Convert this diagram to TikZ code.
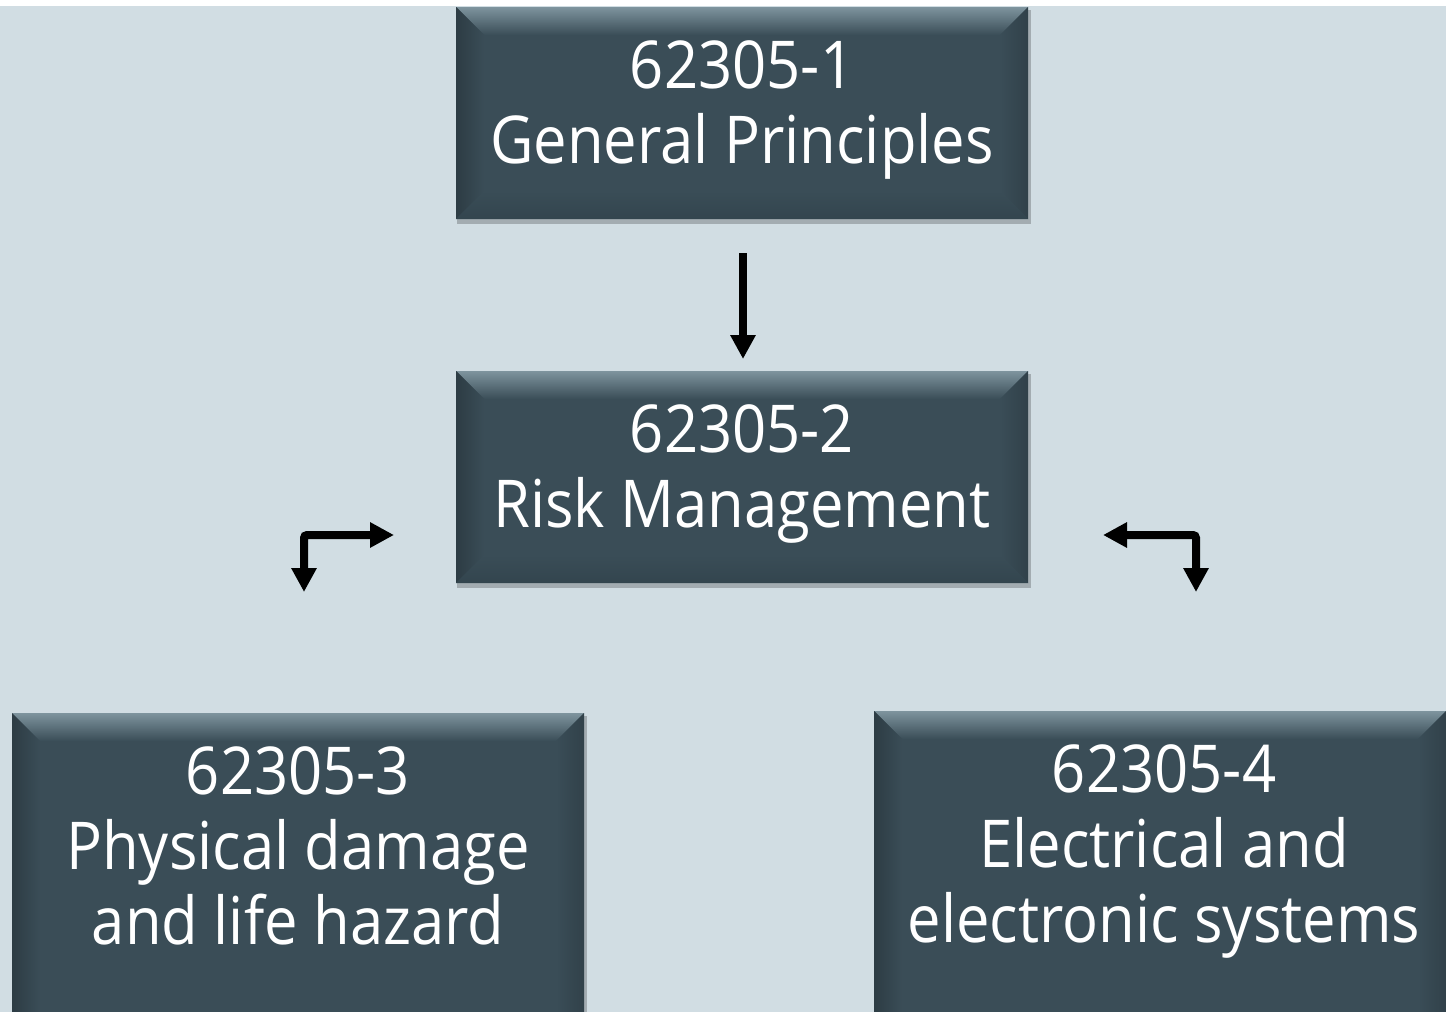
\documentclass[tikz,border=0pt]{standalone}
\usepackage{fontspec}
\setmainfont[FakeStretch=0.905]{Open Sans}
\usetikzlibrary{arrows.meta}
\definecolor{bgc}{HTML}{D1DDE3}
\definecolor{boxc}{HTML}{3A4D57}
\definecolor{bevtop}{HTML}{7E949E}
\definecolor{bevside}{HTML}{2D3C44}
\definecolor{bevbot}{HTML}{33454E}
\newcommand\bevbox[4]{%
  \fill[black, opacity=0.22] (#1+1,#2+3) rectangle (#3+3,#4+5);
  \fill[boxc] (#1,#2) rectangle (#3,#4);
  \shade[top color=bevtop, bottom color=boxc] (#1,#2) -- (#3,#2) -- (#3-28,#2+28) -- (#1+28,#2+28) -- cycle;
  \shade[left color=bevside, right color=boxc] (#1,#2) -- (#1+28,#2+28) -- (#1+28,#4-28) -- (#1,#4) -- cycle;
  \shade[right color=bevside!70!boxc, left color=boxc] (#3,#2) -- (#3-28,#2+28) -- (#3-28,#4-28) -- (#3,#4) -- cycle;
  \shade[bottom color=bevbot, top color=boxc] (#1,#4) -- (#1+28,#4-28) -- (#3-28,#4-28) -- (#3,#4) -- cycle;
}
\tikzset{
  boxtext/.style={text=white, align=center, inner sep=0pt,
    font=\fontsize{33}{37.5}\selectfont},
  arr/.style={line width=4pt, -{Triangle[width=12pt,length=12pt]}},
  darr/.style={line width=4pt, rounded corners=1.5pt,
    {Triangle[width=12pt,length=12pt]}-{Triangle[width=12pt,length=12pt]}},
}
\begin{document}
\begin{tikzpicture}[x=0.5pt, y=-0.5pt]
\useasboundingbox (0,0) rectangle (1446,1012);
\clip (0,0) rectangle (1446,1012);
\fill[white] (0,0) rectangle (1446,1012);
\fill[bgc] (0,6) rectangle (1446,1012);

\bevbox{456}{7}{1028}{219}
\bevbox{456}{371}{1028}{583}
\bevbox{12}{713}{584}{1130}
\bevbox{874}{711}{1446}{1130}

\node[boxtext] (b1) at (742,110) {62305-1\\General Principles};
\node[boxtext] (b2) at (742,474) {62305-2\\Risk Management};
\node[boxtext] (b3) at (298,846) {62305-3\\Physical damage\\and life hazard};
\node[boxtext] (b4) at (1164,851) {62305-4\\Electrical and\\electronic systems};

\coordinate (a1s) at (743,253);
\coordinate (a1e) at (743,359);
\draw[arr] (a1s) -- (a1e);

\coordinate (l1) at (394,535);
\coordinate (lc) at (304,535);
\coordinate (l2) at (304,592);
\draw[darr] (l1) -- (lc) -- (l2);

\coordinate (r1) at (1103,535);
\coordinate (rc) at (1196,535);
\coordinate (r2) at (1196,592);
\draw[darr] (r1) -- (rc) -- (r2);
\end{tikzpicture}
\end{document}
